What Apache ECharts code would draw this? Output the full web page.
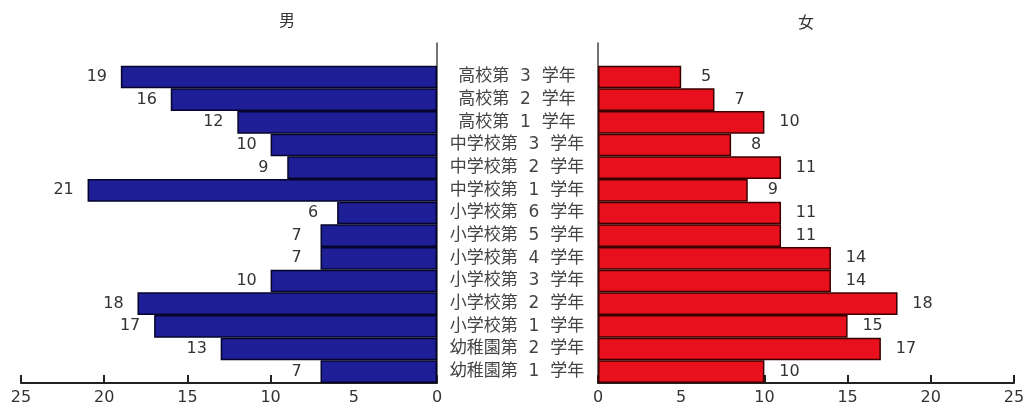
<!DOCTYPE html>
<html>
<head>
<meta charset="utf-8">
<script src="https://cdn.jsdelivr.net/npm/echarts@6/dist/echarts.min.js"></script>
<style>
  html, body { margin: 0; padding: 0; background: #fff; }
  #chart { width: 1030px; height: 409px; }
</style>
</head>
<body>
<div id="chart"></div>
<script>
// Grades, bottom to top; the last blank slot leaves headroom above the top bar
const grades = [
  '幼稚園第  1  学年', '幼稚園第  2  学年',
  '小学校第  1  学年', '小学校第  2  学年', '小学校第  3  学年',
  '小学校第  4  学年', '小学校第  5  学年', '小学校第  6  学年',
  '中学校第  1  学年', '中学校第  2  学年', '中学校第  3  学年',
  '高校第  1  学年', '高校第  2  学年', '高校第  3  学年',
  ''
];
const boys  = [7, 13, 17, 18, 10, 7, 7, 6, 21, 9, 10, 12, 16, 19, null];
const girls = [10, 17, 15, 18, 14, 14, 11, 11, 9, 11, 8, 10, 7, 5, null];
const xTicks = { min: 0, max: 25, interval: 5 };

const font = '"DejaVu Sans", "Noto Sans CJK JP", sans-serif';
const chart = echarts.init(document.getElementById('chart'), null, { renderer: 'canvas' });

function valueAxis(gridIndex, inverse) {
  return {
    type: 'value', gridIndex, inverse,
    min: xTicks.min, max: xTicks.max, interval: xTicks.interval,
    axisLine: { show: true, lineStyle: { color: '#222', width: 2 } },
    axisTick: { show: true, inside: true, length: 8, lineStyle: { color: '#222', width: 2 } },
    axisLabel: { color: '#333', fontSize: 16, fontFamily: font, margin: 7 },
    splitLine: { show: false }
  };
}

function categoryAxis(gridIndex, showLabels) {
  return {
    type: 'category', gridIndex, data: grades,
    position: gridIndex === 0 ? 'right' : 'left',
    axisLine: { show: true, lineStyle: { color: '#444', width: 1.5 } },
    axisTick: { show: false },
    axisLabel: showLabels ? {
      show: true, align: 'center', margin: 80,
      color: '#444', fontSize: 17, fontFamily: font
    } : { show: false }
  };
}

chart.setOption({
  animation: false,
  backgroundColor: '#fff',
  graphic: [
    { type: 'text', left: 279, top: 12, style: { text: '男', fill: '#333', font: '16px "Noto Sans CJK JP"' } },
    { type: 'text', left: 798, top: 14, style: { text: '女', fill: '#333', font: '16px "Noto Sans CJK JP"' } }
  ],
  grid: [
    { left: 21, right: 593, top: 43, bottom: 26 },
    { left: 598, right: 16, top: 43, bottom: 26 }
  ],
  xAxis: [valueAxis(0, true), valueAxis(1, false)],
  yAxis: [categoryAxis(0, true), categoryAxis(1, false)],
  series: [
    {
      name: '男', type: 'bar', xAxisIndex: 0, yAxisIndex: 0, data: boys,
      barCategoryGap: '0%',
      itemStyle: { color: '#1e1e96', borderColor: '#05052a', borderWidth: 1.5 },
      label: {
        show: true, position: 'left', distance: 24, align: 'center',
        color: '#333', fontSize: 16, fontFamily: font
      }
    },
    {
      name: '女', type: 'bar', xAxisIndex: 1, yAxisIndex: 1, data: girls,
      barCategoryGap: '0%',
      itemStyle: { color: '#e8101c', borderColor: '#3a0000', borderWidth: 1.5 },
      label: {
        show: true, position: 'right', distance: 25, align: 'center',
        color: '#333', fontSize: 16, fontFamily: font
      }
    }
  ]
});
</script>
</body>
</html>
